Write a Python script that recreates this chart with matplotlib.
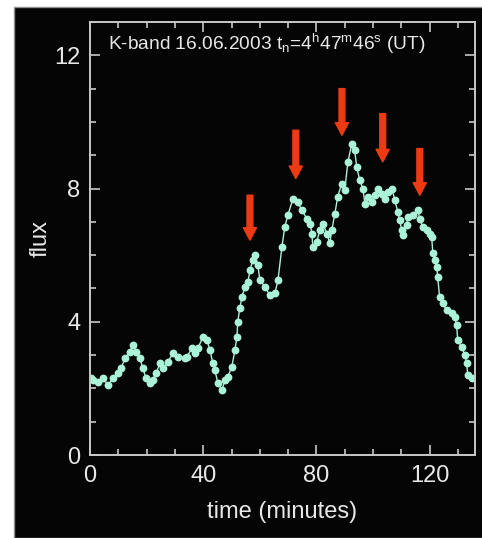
import matplotlib
matplotlib.use('Agg')
import matplotlib.pyplot as plt
from matplotlib.patches import Rectangle
from matplotlib.ticker import MultipleLocator

plt.rcParams['font.family'] = ['Liberation Sans', 'DejaVu Sans']
plt.rcParams['mathtext.fontset'] = 'custom'
plt.rcParams['mathtext.rm'] = 'Liberation Sans'
plt.rcParams['mathtext.it'] = 'Liberation Sans'

# light curve: time (min), flux
time = [0.3, 1.1, 2.8, 4.6, 6.4, 8.1, 9.9, 10.9, 12.4, 14.1, 15.2, 16.2, 17.6, 18.7,
        19.8, 21.2, 22.2, 23.3, 24.7, 25.8, 27.5, 29.3, 31.1, 33.5, 34.2, 36.0, 37.1,
        38.1, 39.9, 41.3, 42.4, 43.4, 44.1, 45.2, 46.6, 47.7, 48.7, 50.1, 51.2, 51.9,
        52.2, 52.9, 53.7, 54.7, 55.8, 56.5, 57.5, 58.2, 59.3, 60.0, 61.8, 63.5, 65.3,
        66.4, 67.8, 68.8, 69.9, 71.7, 73.4, 74.8, 76.6, 77.7, 78.4, 78.7, 80.1, 81.2,
        82.2, 83.7, 84.7, 85.4, 86.5, 87.5, 88.9, 90.0, 91.1, 92.5, 93.5, 94.2, 95.3,
        96.4, 97.1, 98.1, 99.5, 100.6, 101.7, 103.1, 104.1, 105.2, 106.6, 107.7, 108.7,
        109.4, 110.1, 110.5, 111.9, 112.2, 114.0, 115.8, 116.5, 117.5, 119.0, 120.0,
        120.7, 121.1, 121.8, 122.5, 122.8, 123.5, 124.6, 126.0, 127.8, 128.8, 129.5,
        129.9, 131.3, 132.4, 133.1, 133.4, 134.8]
flux = [2.3, 2.25, 2.2, 2.3, 2.1, 2.3, 2.45, 2.6, 2.9, 3.1, 3.3, 3.1, 2.9, 2.6,
        2.3, 2.15, 2.25, 2.45, 2.75, 2.6, 2.8, 3.05, 2.95, 2.9, 2.95, 3.2, 3.05,
        3.2, 3.55, 3.45, 3.15, 2.75, 2.55, 2.15, 1.95, 2.25, 2.35, 2.65, 3.15, 3.55,
        4.0, 4.4, 4.75, 5.05, 5.2, 5.55, 5.85, 6.0, 5.7, 5.25, 5.05, 4.8, 4.85,
        5.25, 6.25, 6.85, 7.2, 7.7, 7.6, 7.35, 7.1, 6.95, 6.65, 6.25, 6.4, 6.75,
        6.95, 6.65, 6.35, 6.75, 7.25, 7.75, 8.15, 7.95, 8.8, 9.35, 9.15, 8.65, 8.25,
        8.0, 7.55, 7.75, 7.6, 7.8, 8.0, 7.85, 7.7, 7.9, 8.0, 7.65, 7.3,
        7.05, 6.75, 6.6, 6.9, 7.15, 7.2, 7.35, 7.1, 6.85, 6.75, 6.65,
        6.55, 6.05, 5.85, 5.65, 5.35, 4.75, 4.55, 4.35, 4.25, 4.15, 3.9,
        3.45, 3.25, 3.0, 2.75, 2.4, 2.3]

# flare arrows: x position, tail top, tip
arrow_x = [56.5, 72.7, 89.0, 103.4, 116.5]
arrow_top = [7.8, 9.75, 11.0, 10.25, 9.2]
arrow_tip = [6.45, 8.3, 9.6, 8.8, 7.8]

fg = '#e8e8e8'
fig = plt.figure(figsize=(4.82, 5.38), dpi=100, facecolor='white')
fig.patches.append(Rectangle((14 / 482, 0), 1, 531 / 538, transform=fig.transFigure,
                             facecolor='#050505', edgecolor='#909090', lw=1, zorder=-10))

ax = fig.add_axes([90 / 482, 83 / 538, 385 / 482, 433 / 538])
ax.set_zorder(5)
ax.set_facecolor('#050505')
ax.plot(time, flux, '-o', color='#aaf2d8', lw=1, ms=4.6, mec='#aaf2d8')

for x, y0, y1 in zip(arrow_x, arrow_top, arrow_tip):
    ax.annotate('', xy=(x, y1), xytext=(x, y0),
                arrowprops=dict(arrowstyle='simple,head_length=0.9,head_width=0.95,tail_width=0.42',
                                color='#ee3a12', mutation_scale=10, shrinkA=0, shrinkB=0))

ax.set_xlim(0, 136)
ax.set_ylim(0, 13)
ax.xaxis.set_major_locator(MultipleLocator(40))
ax.xaxis.set_minor_locator(MultipleLocator(10))
ax.yaxis.set_major_locator(MultipleLocator(4))
ax.yaxis.set_minor_locator(MultipleLocator(1))
ax.tick_params(which='both', direction='in', top=True, right=True, colors='#c8c8c8',
               labelcolor=fg, labelsize=17, width=1.2)
ax.tick_params(which='major', length=7, pad=7)
ax.tick_params(which='minor', length=4)
for s in ax.spines.values():
    s.set_color('#c8c8c8')
    s.set_linewidth(1.4)

ax.set_xlabel('time (minutes)', color=fg, fontsize=17, labelpad=10)
ax.set_ylabel('flux', color=fg, fontsize=17, labelpad=2)
ax.text(0.047, 0.95, r'K-band 16.06.2003 t$_\mathrm{n}$=4$^\mathrm{h}$47$^\mathrm{m}$46$^\mathrm{s}$ (UT)',
        transform=ax.transAxes, color=fg, fontsize=13.8, va='center', ha='left')

fig.savefig('out.png', dpi=100, facecolor='white')
